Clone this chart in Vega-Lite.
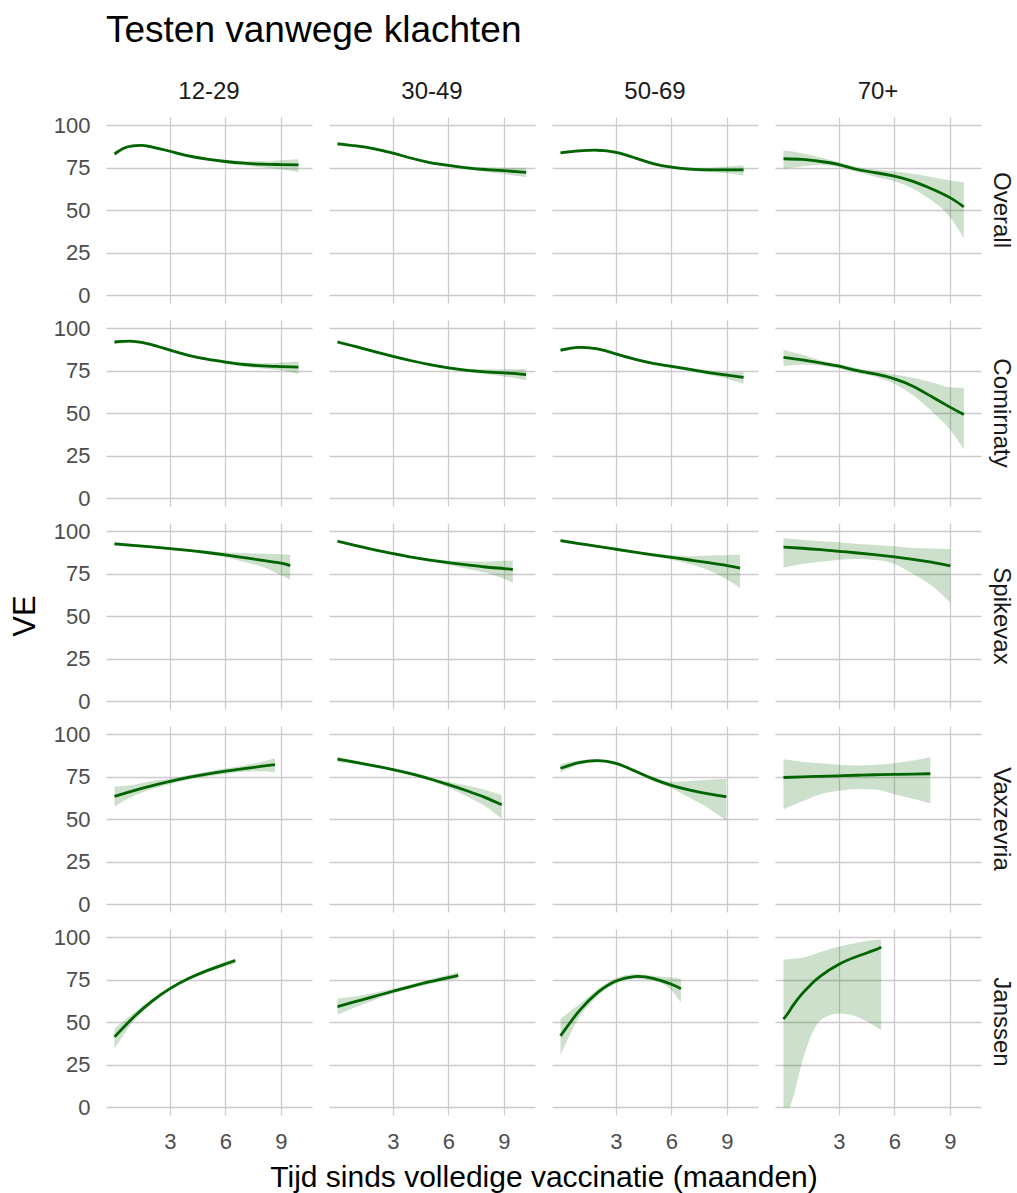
{
  "$schema": "https://vega.github.io/schema/vega-lite/v6.json",
  "padding": {"left": 10, "top": 12, "right": 2, "bottom": 5},
  "title": {"text": "Testen vanwege klachten", "anchor": "start", "fontSize": 37, "font": "Liberation Sans", "fontWeight": "normal", "color": "#000000", "offset": 30, "dx": 96},
  "data": {"values": [
    {"age":"12-29","vaccine":"Overall","t":0,"ve":83.0,"lo":81.8,"hi":84.2},
    {"age":"12-29","vaccine":"Overall","t":0.5,"ve":86.4,"lo":85.4,"hi":87.4},
    {"age":"12-29","vaccine":"Overall","t":1,"ve":87.8,"lo":87.0,"hi":88.6},
    {"age":"12-29","vaccine":"Overall","t":1.5,"ve":88.0,"lo":87.2,"hi":88.8},
    {"age":"12-29","vaccine":"Overall","t":2,"ve":87.2,"lo":86.4,"hi":88.0},
    {"age":"12-29","vaccine":"Overall","t":3,"ve":84.6,"lo":83.8,"hi":85.4},
    {"age":"12-29","vaccine":"Overall","t":4,"ve":81.9,"lo":81.1,"hi":82.7},
    {"age":"12-29","vaccine":"Overall","t":5,"ve":80.0,"lo":79.2,"hi":80.8},
    {"age":"12-29","vaccine":"Overall","t":6,"ve":78.6,"lo":77.6,"hi":79.6},
    {"age":"12-29","vaccine":"Overall","t":7,"ve":77.6,"lo":76.3,"hi":78.9},
    {"age":"12-29","vaccine":"Overall","t":8,"ve":77.0,"lo":75.2,"hi":78.8},
    {"age":"12-29","vaccine":"Overall","t":9,"ve":76.8,"lo":74.0,"hi":79.4},
    {"age":"12-29","vaccine":"Overall","t":9.95,"ve":76.6,"lo":72.3,"hi":79.9},

    {"age":"30-49","vaccine":"Overall","t":0,"ve":88.9,"lo":87.8,"hi":90.0},
    {"age":"30-49","vaccine":"Overall","t":1,"ve":87.7,"lo":86.9,"hi":88.5},
    {"age":"30-49","vaccine":"Overall","t":2,"ve":86.0,"lo":85.3,"hi":86.7},
    {"age":"30-49","vaccine":"Overall","t":3,"ve":83.5,"lo":82.8,"hi":84.2},
    {"age":"30-49","vaccine":"Overall","t":4,"ve":80.5,"lo":79.8,"hi":81.2},
    {"age":"30-49","vaccine":"Overall","t":5,"ve":78.0,"lo":77.3,"hi":78.7},
    {"age":"30-49","vaccine":"Overall","t":6,"ve":76.3,"lo":75.5,"hi":77.1},
    {"age":"30-49","vaccine":"Overall","t":7,"ve":74.9,"lo":74.0,"hi":75.8},
    {"age":"30-49","vaccine":"Overall","t":8,"ve":73.9,"lo":72.6,"hi":75.2},
    {"age":"30-49","vaccine":"Overall","t":9,"ve":73.2,"lo":71.2,"hi":75.0},
    {"age":"30-49","vaccine":"Overall","t":10.2,"ve":72.2,"lo":69.5,"hi":74.9},

    {"age":"50-69","vaccine":"Overall","t":0,"ve":83.7,"lo":82.7,"hi":84.7},
    {"age":"50-69","vaccine":"Overall","t":1,"ve":84.8,"lo":84.0,"hi":85.6},
    {"age":"50-69","vaccine":"Overall","t":2,"ve":85.2,"lo":84.5,"hi":85.9},
    {"age":"50-69","vaccine":"Overall","t":3,"ve":84.0,"lo":83.3,"hi":84.7},
    {"age":"50-69","vaccine":"Overall","t":4,"ve":80.8,"lo":80.1,"hi":81.5},
    {"age":"50-69","vaccine":"Overall","t":5,"ve":77.4,"lo":76.7,"hi":78.1},
    {"age":"50-69","vaccine":"Overall","t":6,"ve":75.3,"lo":74.5,"hi":76.1},
    {"age":"50-69","vaccine":"Overall","t":7,"ve":74.1,"lo":73.1,"hi":75.1},
    {"age":"50-69","vaccine":"Overall","t":8,"ve":73.7,"lo":72.4,"hi":75.0},
    {"age":"50-69","vaccine":"Overall","t":9,"ve":73.7,"lo":71.7,"hi":75.6},
    {"age":"50-69","vaccine":"Overall","t":9.9,"ve":73.7,"lo":70.4,"hi":76.3},

    {"age":"70+","vaccine":"Overall","t":0,"ve":80.2,"lo":74.3,"hi":85.0},
    {"age":"70+","vaccine":"Overall","t":1,"ve":79.8,"lo":75.7,"hi":83.5},
    {"age":"70+","vaccine":"Overall","t":2,"ve":78.6,"lo":76.7,"hi":81.0},
    {"age":"70+","vaccine":"Overall","t":3,"ve":76.8,"lo":75.3,"hi":78.2},
    {"age":"70+","vaccine":"Overall","t":4,"ve":73.9,"lo":72.4,"hi":75.2},
    {"age":"70+","vaccine":"Overall","t":5,"ve":72.0,"lo":69.5,"hi":73.7},
    {"age":"70+","vaccine":"Overall","t":6,"ve":70.0,"lo":67.0,"hi":72.8},
    {"age":"70+","vaccine":"Overall","t":7,"ve":66.9,"lo":62.6,"hi":71.4},
    {"age":"70+","vaccine":"Overall","t":8,"ve":62.6,"lo":55.8,"hi":69.5},
    {"age":"70+","vaccine":"Overall","t":9,"ve":57.4,"lo":46.0,"hi":67.5},
    {"age":"70+","vaccine":"Overall","t":9.75,"ve":52.0,"lo":33.5,"hi":66.5},

    {"age":"12-29","vaccine":"Comirnaty","t":0,"ve":91.8,"lo":90.6,"hi":93.0},
    {"age":"12-29","vaccine":"Comirnaty","t":1,"ve":92.2,"lo":91.4,"hi":93.0},
    {"age":"12-29","vaccine":"Comirnaty","t":2,"ve":90.3,"lo":89.6,"hi":91.0},
    {"age":"12-29","vaccine":"Comirnaty","t":3,"ve":87.0,"lo":86.3,"hi":87.7},
    {"age":"12-29","vaccine":"Comirnaty","t":4,"ve":84.0,"lo":83.3,"hi":84.7},
    {"age":"12-29","vaccine":"Comirnaty","t":5,"ve":81.7,"lo":81.0,"hi":82.4},
    {"age":"12-29","vaccine":"Comirnaty","t":6,"ve":80.0,"lo":79.0,"hi":81.0},
    {"age":"12-29","vaccine":"Comirnaty","t":7,"ve":78.6,"lo":77.4,"hi":79.8},
    {"age":"12-29","vaccine":"Comirnaty","t":8,"ve":77.8,"lo":76.2,"hi":79.4},
    {"age":"12-29","vaccine":"Comirnaty","t":9,"ve":77.4,"lo":75.2,"hi":79.8},
    {"age":"12-29","vaccine":"Comirnaty","t":9.95,"ve":77.0,"lo":73.0,"hi":80.5},

    {"age":"30-49","vaccine":"Comirnaty","t":0,"ve":91.8,"lo":90.7,"hi":92.9},
    {"age":"30-49","vaccine":"Comirnaty","t":1,"ve":89.1,"lo":88.3,"hi":89.9},
    {"age":"30-49","vaccine":"Comirnaty","t":2,"ve":86.2,"lo":85.5,"hi":86.9},
    {"age":"30-49","vaccine":"Comirnaty","t":3,"ve":83.4,"lo":82.7,"hi":84.1},
    {"age":"30-49","vaccine":"Comirnaty","t":4,"ve":80.8,"lo":80.1,"hi":81.5},
    {"age":"30-49","vaccine":"Comirnaty","t":5,"ve":78.5,"lo":77.8,"hi":79.2},
    {"age":"30-49","vaccine":"Comirnaty","t":6,"ve":76.6,"lo":75.8,"hi":77.4},
    {"age":"30-49","vaccine":"Comirnaty","t":7,"ve":75.2,"lo":74.2,"hi":76.2},
    {"age":"30-49","vaccine":"Comirnaty","t":8,"ve":74.3,"lo":72.9,"hi":75.7},
    {"age":"30-49","vaccine":"Comirnaty","t":9,"ve":73.7,"lo":71.6,"hi":75.8},
    {"age":"30-49","vaccine":"Comirnaty","t":10.2,"ve":72.7,"lo":69.4,"hi":76.0},

    {"age":"50-69","vaccine":"Comirnaty","t":0,"ve":87.0,"lo":85.8,"hi":88.2},
    {"age":"50-69","vaccine":"Comirnaty","t":1,"ve":88.6,"lo":87.8,"hi":89.4},
    {"age":"50-69","vaccine":"Comirnaty","t":2,"ve":87.7,"lo":87.0,"hi":88.4},
    {"age":"50-69","vaccine":"Comirnaty","t":3,"ve":84.8,"lo":84.1,"hi":85.5},
    {"age":"50-69","vaccine":"Comirnaty","t":4,"ve":81.7,"lo":81.0,"hi":82.4},
    {"age":"50-69","vaccine":"Comirnaty","t":5,"ve":79.3,"lo":78.6,"hi":80.0},
    {"age":"50-69","vaccine":"Comirnaty","t":6,"ve":77.5,"lo":76.7,"hi":78.3},
    {"age":"50-69","vaccine":"Comirnaty","t":7,"ve":75.7,"lo":74.7,"hi":76.7},
    {"age":"50-69","vaccine":"Comirnaty","t":8,"ve":73.9,"lo":72.6,"hi":75.2},
    {"age":"50-69","vaccine":"Comirnaty","t":9,"ve":72.3,"lo":70.3,"hi":74.0},
    {"age":"50-69","vaccine":"Comirnaty","t":9.9,"ve":71.0,"lo":67.3,"hi":74.0},

    {"age":"70+","vaccine":"Comirnaty","t":0,"ve":82.8,"lo":77.6,"hi":87.3},
    {"age":"70+","vaccine":"Comirnaty","t":1,"ve":81.3,"lo":78.6,"hi":84.4},
    {"age":"70+","vaccine":"Comirnaty","t":2,"ve":79.5,"lo":78.0,"hi":81.0},
    {"age":"70+","vaccine":"Comirnaty","t":3,"ve":77.6,"lo":76.2,"hi":78.9},
    {"age":"70+","vaccine":"Comirnaty","t":4,"ve":75.0,"lo":73.6,"hi":76.4},
    {"age":"70+","vaccine":"Comirnaty","t":5,"ve":72.9,"lo":71.3,"hi":74.5},
    {"age":"70+","vaccine":"Comirnaty","t":6,"ve":70.2,"lo":67.3,"hi":72.7},
    {"age":"70+","vaccine":"Comirnaty","t":7,"ve":65.9,"lo":60.6,"hi":70.8},
    {"age":"70+","vaccine":"Comirnaty","t":8,"ve":59.8,"lo":51.3,"hi":68.2},
    {"age":"70+","vaccine":"Comirnaty","t":9,"ve":53.6,"lo":40.5,"hi":65.3},
    {"age":"70+","vaccine":"Comirnaty","t":9.75,"ve":49.3,"lo":28.9,"hi":64.9},

    {"age":"12-29","vaccine":"Spikevax","t":0,"ve":92.4,"lo":91.3,"hi":93.5},
    {"age":"12-29","vaccine":"Spikevax","t":1,"ve":91.6,"lo":90.8,"hi":92.4},
    {"age":"12-29","vaccine":"Spikevax","t":2,"ve":90.7,"lo":90.0,"hi":91.4},
    {"age":"12-29","vaccine":"Spikevax","t":3,"ve":89.7,"lo":89.0,"hi":90.4},
    {"age":"12-29","vaccine":"Spikevax","t":4,"ve":88.6,"lo":87.9,"hi":89.3},
    {"age":"12-29","vaccine":"Spikevax","t":5,"ve":87.4,"lo":86.5,"hi":88.3},
    {"age":"12-29","vaccine":"Spikevax","t":6,"ve":86.0,"lo":84.6,"hi":87.4},
    {"age":"12-29","vaccine":"Spikevax","t":7,"ve":84.4,"lo":81.8,"hi":87.1},
    {"age":"12-29","vaccine":"Spikevax","t":8,"ve":82.8,"lo":79.0,"hi":86.7},
    {"age":"12-29","vaccine":"Spikevax","t":9,"ve":81.1,"lo":74.0,"hi":86.3},
    {"age":"12-29","vaccine":"Spikevax","t":9.5,"ve":79.7,"lo":71.3,"hi":86.0},

    {"age":"30-49","vaccine":"Spikevax","t":0,"ve":94.0,"lo":92.9,"hi":95.1},
    {"age":"30-49","vaccine":"Spikevax","t":1,"ve":91.4,"lo":90.6,"hi":92.2},
    {"age":"30-49","vaccine":"Spikevax","t":2,"ve":89.0,"lo":88.3,"hi":89.7},
    {"age":"30-49","vaccine":"Spikevax","t":3,"ve":86.8,"lo":86.1,"hi":87.5},
    {"age":"30-49","vaccine":"Spikevax","t":4,"ve":84.7,"lo":84.0,"hi":85.4},
    {"age":"30-49","vaccine":"Spikevax","t":5,"ve":82.9,"lo":82.1,"hi":83.7},
    {"age":"30-49","vaccine":"Spikevax","t":6,"ve":81.4,"lo":80.2,"hi":82.6},
    {"age":"30-49","vaccine":"Spikevax","t":7,"ve":80.1,"lo":77.9,"hi":82.3},
    {"age":"30-49","vaccine":"Spikevax","t":8,"ve":78.9,"lo":75.5,"hi":82.0},
    {"age":"30-49","vaccine":"Spikevax","t":9,"ve":78.0,"lo":72.0,"hi":82.5},
    {"age":"30-49","vaccine":"Spikevax","t":9.48,"ve":77.4,"lo":69.6,"hi":82.7},

    {"age":"50-69","vaccine":"Spikevax","t":0,"ve":94.3,"lo":93.2,"hi":95.4},
    {"age":"50-69","vaccine":"Spikevax","t":1,"ve":92.6,"lo":91.8,"hi":93.4},
    {"age":"50-69","vaccine":"Spikevax","t":2,"ve":91.0,"lo":90.3,"hi":91.7},
    {"age":"50-69","vaccine":"Spikevax","t":3,"ve":89.3,"lo":88.6,"hi":90.0},
    {"age":"50-69","vaccine":"Spikevax","t":4,"ve":87.6,"lo":86.9,"hi":88.3},
    {"age":"50-69","vaccine":"Spikevax","t":5,"ve":86.0,"lo":85.1,"hi":86.9},
    {"age":"50-69","vaccine":"Spikevax","t":6,"ve":84.5,"lo":83.1,"hi":85.9},
    {"age":"50-69","vaccine":"Spikevax","t":7,"ve":83.0,"lo":80.5,"hi":85.2},
    {"age":"50-69","vaccine":"Spikevax","t":8,"ve":81.4,"lo":77.0,"hi":85.6},
    {"age":"50-69","vaccine":"Spikevax","t":9,"ve":79.7,"lo":71.5,"hi":86.0},
    {"age":"50-69","vaccine":"Spikevax","t":9.71,"ve":78.2,"lo":66.5,"hi":86.2},

    {"age":"70+","vaccine":"Spikevax","t":0,"ve":90.5,"lo":78.6,"hi":95.7},
    {"age":"70+","vaccine":"Spikevax","t":1,"ve":89.9,"lo":80.7,"hi":94.9},
    {"age":"70+","vaccine":"Spikevax","t":2,"ve":89.1,"lo":82.0,"hi":94.0},
    {"age":"70+","vaccine":"Spikevax","t":3,"ve":88.1,"lo":83.2,"hi":93.4},
    {"age":"70+","vaccine":"Spikevax","t":4,"ve":87.1,"lo":83.6,"hi":92.4},
    {"age":"70+","vaccine":"Spikevax","t":5,"ve":86.0,"lo":83.0,"hi":91.8},
    {"age":"70+","vaccine":"Spikevax","t":6,"ve":84.8,"lo":80.7,"hi":91.0},
    {"age":"70+","vaccine":"Spikevax","t":7,"ve":83.4,"lo":74.9,"hi":90.0},
    {"age":"70+","vaccine":"Spikevax","t":8,"ve":81.7,"lo":68.0,"hi":89.7},
    {"age":"70+","vaccine":"Spikevax","t":9.02,"ve":79.5,"lo":57.9,"hi":89.5},

    {"age":"12-29","vaccine":"Vaxzevria","t":0,"ve":63.4,"lo":57.5,"hi":69.2},
    {"age":"12-29","vaccine":"Vaxzevria","t":1,"ve":66.7,"lo":63.5,"hi":70.1},
    {"age":"12-29","vaccine":"Vaxzevria","t":2,"ve":69.6,"lo":67.6,"hi":72.4},
    {"age":"12-29","vaccine":"Vaxzevria","t":3,"ve":72.2,"lo":70.6,"hi":73.7},
    {"age":"12-29","vaccine":"Vaxzevria","t":4,"ve":74.5,"lo":73.1,"hi":75.9},
    {"age":"12-29","vaccine":"Vaxzevria","t":5,"ve":76.5,"lo":75.1,"hi":77.9},
    {"age":"12-29","vaccine":"Vaxzevria","t":6,"ve":78.2,"lo":76.6,"hi":79.8},
    {"age":"12-29","vaccine":"Vaxzevria","t":7,"ve":79.7,"lo":77.8,"hi":81.6},
    {"age":"12-29","vaccine":"Vaxzevria","t":8,"ve":81.1,"lo":78.2,"hi":83.8},
    {"age":"12-29","vaccine":"Vaxzevria","t":8.68,"ve":82.1,"lo":77.4,"hi":85.8},

    {"age":"30-49","vaccine":"Vaxzevria","t":0,"ve":85.2,"lo":83.4,"hi":86.7},
    {"age":"30-49","vaccine":"Vaxzevria","t":1,"ve":83.3,"lo":82.3,"hi":84.3},
    {"age":"30-49","vaccine":"Vaxzevria","t":2,"ve":81.3,"lo":80.5,"hi":82.1},
    {"age":"30-49","vaccine":"Vaxzevria","t":3,"ve":79.1,"lo":78.3,"hi":79.9},
    {"age":"30-49","vaccine":"Vaxzevria","t":4,"ve":76.6,"lo":75.6,"hi":77.6},
    {"age":"30-49","vaccine":"Vaxzevria","t":5,"ve":73.6,"lo":72.4,"hi":74.8},
    {"age":"30-49","vaccine":"Vaxzevria","t":6,"ve":70.3,"lo":68.6,"hi":72.0},
    {"age":"30-49","vaccine":"Vaxzevria","t":7,"ve":66.7,"lo":63.4,"hi":69.8},
    {"age":"30-49","vaccine":"Vaxzevria","t":8,"ve":62.7,"lo":57.5,"hi":67.2},
    {"age":"30-49","vaccine":"Vaxzevria","t":8.88,"ve":58.5,"lo":50.3,"hi":64.3},

    {"age":"50-69","vaccine":"Vaxzevria","t":0,"ve":79.9,"lo":77.4,"hi":82.3},
    {"age":"50-69","vaccine":"Vaxzevria","t":1,"ve":83.2,"lo":82.0,"hi":84.4},
    {"age":"50-69","vaccine":"Vaxzevria","t":2,"ve":84.4,"lo":83.5,"hi":85.3},
    {"age":"50-69","vaccine":"Vaxzevria","t":3,"ve":82.8,"lo":81.9,"hi":83.7},
    {"age":"50-69","vaccine":"Vaxzevria","t":4,"ve":78.4,"lo":77.4,"hi":79.4},
    {"age":"50-69","vaccine":"Vaxzevria","t":5,"ve":73.7,"lo":72.5,"hi":74.9},
    {"age":"50-69","vaccine":"Vaxzevria","t":6,"ve":69.9,"lo":68.2,"hi":72.1},
    {"age":"50-69","vaccine":"Vaxzevria","t":7,"ve":67.1,"lo":62.4,"hi":72.5},
    {"age":"50-69","vaccine":"Vaxzevria","t":8,"ve":64.9,"lo":56.5,"hi":73.1},
    {"age":"50-69","vaccine":"Vaxzevria","t":8.97,"ve":63.2,"lo":49.1,"hi":73.7},

    {"age":"70+","vaccine":"Vaxzevria","t":0,"ve":74.5,"lo":55.9,"hi":85.2},
    {"age":"70+","vaccine":"Vaxzevria","t":1,"ve":74.9,"lo":60.4,"hi":83.8},
    {"age":"70+","vaccine":"Vaxzevria","t":2,"ve":75.2,"lo":64.7,"hi":82.8},
    {"age":"70+","vaccine":"Vaxzevria","t":3,"ve":75.5,"lo":66.7,"hi":81.9},
    {"age":"70+","vaccine":"Vaxzevria","t":4,"ve":75.8,"lo":67.8,"hi":81.5},
    {"age":"70+","vaccine":"Vaxzevria","t":5,"ve":76.1,"lo":67.5,"hi":81.9},
    {"age":"70+","vaccine":"Vaxzevria","t":6,"ve":76.3,"lo":64.7,"hi":82.8},
    {"age":"70+","vaccine":"Vaxzevria","t":7,"ve":76.5,"lo":62.0,"hi":84.4},
    {"age":"70+","vaccine":"Vaxzevria","t":7.94,"ve":76.7,"lo":59.3,"hi":86.5},

    {"age":"12-29","vaccine":"Janssen","t":0,"ve":41.4,"lo":34.6,"hi":46.3},
    {"age":"12-29","vaccine":"Janssen","t":1,"ve":52.7,"lo":50.2,"hi":55.2},
    {"age":"12-29","vaccine":"Janssen","t":2,"ve":62.1,"lo":60.6,"hi":63.6},
    {"age":"12-29","vaccine":"Janssen","t":3,"ve":69.7,"lo":68.6,"hi":70.8},
    {"age":"12-29","vaccine":"Janssen","t":4,"ve":75.6,"lo":74.6,"hi":76.6},
    {"age":"12-29","vaccine":"Janssen","t":5,"ve":80.3,"lo":79.2,"hi":81.4},
    {"age":"12-29","vaccine":"Janssen","t":6,"ve":84.2,"lo":82.8,"hi":85.6},
    {"age":"12-29","vaccine":"Janssen","t":6.53,"ve":86.2,"lo":84.5,"hi":87.6},

    {"age":"30-49","vaccine":"Janssen","t":0,"ve":59.2,"lo":54.5,"hi":63.9},
    {"age":"30-49","vaccine":"Janssen","t":1,"ve":62.2,"lo":59.0,"hi":65.2},
    {"age":"30-49","vaccine":"Janssen","t":2,"ve":65.2,"lo":63.1,"hi":67.3},
    {"age":"30-49","vaccine":"Janssen","t":3,"ve":68.2,"lo":66.8,"hi":69.6},
    {"age":"30-49","vaccine":"Janssen","t":4,"ve":71.1,"lo":69.9,"hi":72.3},
    {"age":"30-49","vaccine":"Janssen","t":5,"ve":73.8,"lo":72.5,"hi":75.1},
    {"age":"30-49","vaccine":"Janssen","t":6,"ve":76.2,"lo":74.6,"hi":77.8},
    {"age":"30-49","vaccine":"Janssen","t":6.53,"ve":77.5,"lo":75.3,"hi":79.5},

    {"age":"50-69","vaccine":"Janssen","t":0,"ve":42.0,"lo":30.7,"hi":52.1},
    {"age":"50-69","vaccine":"Janssen","t":1,"ve":56.5,"lo":52.6,"hi":60.4},
    {"age":"50-69","vaccine":"Janssen","t":2,"ve":67.4,"lo":65.3,"hi":69.2},
    {"age":"50-69","vaccine":"Janssen","t":3,"ve":74.2,"lo":72.8,"hi":75.8},
    {"age":"50-69","vaccine":"Janssen","t":4,"ve":76.8,"lo":75.5,"hi":78.1},
    {"age":"50-69","vaccine":"Janssen","t":5,"ve":75.8,"lo":74.3,"hi":77.3},
    {"age":"50-69","vaccine":"Janssen","t":6,"ve":72.3,"lo":68.8,"hi":76.2},
    {"age":"50-69","vaccine":"Janssen","t":6.51,"ve":69.7,"lo":61.5,"hi":75.6},

    {"age":"70+","vaccine":"Janssen","t":0,"ve":51.8,"lo":0,"hi":86.7},
    {"age":"70+","vaccine":"Janssen","t":0.3,"ve":56.2,"lo":0,"hi":87.0},
    {"age":"70+","vaccine":"Janssen","t":0.5,"ve":59.6,"lo":5.3,"hi":87.2},
    {"age":"70+","vaccine":"Janssen","t":1,"ve":66.6,"lo":26.6,"hi":87.7},
    {"age":"70+","vaccine":"Janssen","t":1.5,"ve":72.3,"lo":42.4,"hi":89.3},
    {"age":"70+","vaccine":"Janssen","t":2,"ve":77.1,"lo":51.2,"hi":91.2},
    {"age":"70+","vaccine":"Janssen","t":3,"ve":84.0,"lo":55.1,"hi":94.5},
    {"age":"70+","vaccine":"Janssen","t":4,"ve":88.7,"lo":53.1,"hi":96.7},
    {"age":"70+","vaccine":"Janssen","t":5,"ve":92.6,"lo":47.3,"hi":98.4},
    {"age":"70+","vaccine":"Janssen","t":5.28,"ve":94.1,"lo":45.3,"hi":98.6}
  ]},
  "facet": {
    "column": {"field": "age", "type": "nominal", "sort": ["12-29", "30-49", "50-69", "70+"],
      "header": {"title": "Tijd sinds volledige vaccinatie (maanden)", "titleOrient": "bottom", "labelOrient": "top",
        "labelFontSize": 24, "labelColor": "#1a1a1a", "labelFont": "Liberation Sans", "labelPadding": 13,
        "titleFontSize": 30, "titleColor": "#000000", "titleFont": "Liberation Sans", "titleFontWeight": "normal", "titlePadding": 1}},
    "row": {"field": "vaccine", "type": "nominal", "sort": ["Overall", "Comirnaty", "Spikevax", "Vaxzevria", "Janssen"],
      "header": {"title": "VE", "titleOrient": "left", "labelOrient": "right", "labelAngle": 90,
        "labelFontSize": 24, "labelColor": "#1a1a1a", "labelFont": "Liberation Sans", "labelPadding": 8,
        "titleFontSize": 31, "titleColor": "#000000", "titleFont": "Liberation Sans", "titleFontWeight": "normal", "titlePadding": 1}}
  },
  "spacing": {"row": 17, "column": 17},
  "spec": {
    "width": 206,
    "height": 186,
    "layer": [
      {"mark": {"type": "area", "interpolate": "monotone", "color": "#006400", "opacity": 0.2},
       "encoding": {
         "x": {"field": "t", "type": "quantitative", "scale": {"domain": [-0.46, 10.68], "nice": false, "zero": false}, "axis": {"values": [3, 6, 9], "title": null}},
         "y": {"field": "lo", "type": "quantitative", "scale": {"domain": [-4.4, 104.7], "nice": false}, "axis": {"values": [0, 25, 50, 75, 100], "title": null}},
         "y2": {"field": "hi"}
       }},
      {"mark": {"type": "line", "interpolate": "natural", "color": "#006400", "strokeWidth": 2.8},
       "encoding": {
         "x": {"field": "t", "type": "quantitative"},
         "y": {"field": "ve", "type": "quantitative"}
       }}
    ]
  },
  "config": {
    "view": {"stroke": null},
    "font": "Liberation Sans",
    "axis": {"domain": false, "ticks": false, "grid": true, "gridColor": "#cccccc", "gridWidth": 1.3,
      "labelFontSize": 22, "labelColor": "#4d4d4d", "labelFont": "Liberation Sans"},
    "axisX": {"labelPadding": 16},
    "axisY": {"labelPadding": 16}
  }
}
